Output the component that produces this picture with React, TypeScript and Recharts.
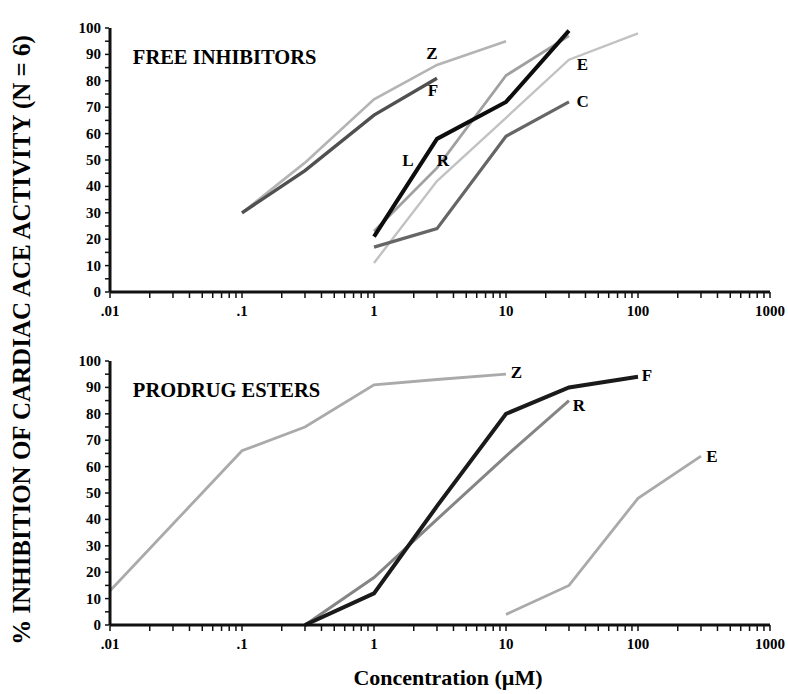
import React from 'react';
import { LineChart, Line, XAxis, YAxis, ReferenceDot, Label } from 'recharts';

// concentrations (µM) and % inhibition
const freeZConc = [0.1, 0.3, 1, 3, 10];
const freeZPct = [30, 49, 73, 86, 95];
const freeFConc = [0.1, 0.3, 1, 3];
const freeFPct = [30, 46, 67, 81];
const freeLConc = [1, 3, 10, 30];
const freeLPct = [21, 58, 72, 99];
const freeRConc = [1, 3, 10, 30];
const freeRPct = [23, 47, 82, 97];
const freeEConc = [1, 3, 10, 30, 100];
const freeEPct = [11, 42, 66, 88, 98];
const freeCConc = [1, 3, 10, 30];
const freeCPct = [17, 24, 59, 72];

const proZConc = [0.01, 0.1, 0.3, 1, 3, 10];
const proZPct = [13, 66, 75, 91, 93, 95];
const proFConc = [0.3, 1, 3, 10, 30, 100];
const proFPct = [0, 12, 45, 80, 90, 94];
const proRConc = [0.3, 1, 3, 10, 30];
const proRPct = [0, 18, 40, 64, 85];
const proEConc = [10, 30, 100, 300];
const proEPct = [4, 15, 48, 64];

const majorX = [0.01, 0.1, 1, 10, 100, 1000];
const majorXLabels = ['.01', '.1', '1', '10', '100', '1000'];
const minorX = [0.01, 0.1, 1, 10, 100].flatMap(d => [2, 3, 4, 5, 6, 7, 8, 9].map(m => +(d * m).toPrecision(3)));
const xTicks = [...majorX, ...minorX].sort((a, b) => a - b);
const yTicks = [0, 5, 10, 15, 20, 25, 30, 35, 40, 45, 50, 55, 60, 65, 70, 75, 80, 85, 90, 95, 100];

const SERIF = '"Liberation Serif", "Times New Roman", serif';

const pts = (xs: number[], ys: number[]) => xs.map((x, i) => ({ x, y: ys[i] }));

type Series = { name: string; data: { x: number; y: number }[]; stroke: string; width: number };
type Note = { text: string; x: number; y: number };

const freeSeries: Series[] = [
    { name: 'Z', data: pts(freeZConc, freeZPct), stroke: '#b4b4b4', width: 2.6 },
    { name: 'E', data: pts(freeEConc, freeEPct), stroke: '#c2c2c2', width: 2.4 },
    { name: 'R', data: pts(freeRConc, freeRPct), stroke: '#a0a0a0', width: 2.8 },
    { name: 'C', data: pts(freeCConc, freeCPct), stroke: '#666', width: 3.2 },
    { name: 'F', data: pts(freeFConc, freeFPct), stroke: '#505050', width: 3.4 },
    { name: 'L', data: pts(freeLConc, freeLPct), stroke: '#0d0d0d', width: 4 },
];

const proSeries: Series[] = [
    { name: 'Z', data: pts(proZConc, proZPct), stroke: '#aaa', width: 2.8 },
    { name: 'E', data: pts(proEConc, proEPct), stroke: '#aaa', width: 2.8 },
    { name: 'R', data: pts(proRConc, proRPct), stroke: '#858585', width: 3 },
    { name: 'F', data: pts(proFConc, proFPct), stroke: '#1a1a1a', width: 4 },
];

const freeNotes: Note[] = [
    { text: 'Z', x: 2.75, y: 90.5 },
    { text: 'F', x: 2.8, y: 76.5 },
    { text: 'E', x: 38, y: 86.4 },
    { text: 'C', x: 38, y: 72.3 },
    { text: 'L', x: 1.81, y: 50 },
    { text: 'R', x: 3.33, y: 50 },
];

const proNotes: Note[] = [
    { text: 'Z', x: 12, y: 95.8 },
    { text: 'F', x: 117, y: 94.7 },
    { text: 'R', x: 35.7, y: 83.3 },
    { text: 'E', x: 363, y: 63.9 },
];

const XTick = (props: any) => {
    const { x, y, payload } = props;
    const idx = majorX.indexOf(payload.value);
    return (
        <g>
            <line x1={x} x2={x} y1={y} y2={y + 6} stroke="#111" strokeWidth={1.5} />
            {idx >= 0 && (
                <text x={x} y={y + 24} textAnchor="middle" fontFamily={SERIF} fontWeight={700} fontSize={15} fill="#000">
                    {majorXLabels[idx]}
                </text>
            )}
        </g>
    );
};

const YTick = (props: any) => {
    const { x, y, payload } = props;
    const v = payload.value;
    return (
        <g>
            <line x1={x - 1} x2={x - 5} y1={y} y2={y} stroke="#111" strokeWidth={1.5} />
            {v % 10 === 0 && (
                <text x={x - 9} y={y + 5} textAnchor="end" fontFamily={SERIF} fontWeight={700} fontSize={15} fill="#000">
                    {v}
                </text>
            )}
        </g>
    );
};

const noteLabel = (text: string, position: any) => ({
    value: text,
    position,
    offset: 0,
    fill: '#000',
    fontSize: 17,
    fontWeight: 700,
    fontFamily: SERIF,
});

const frameLine = { stroke: '#1a1a1a', strokeWidth: 3 };

const Panel: React.FC<{ series: Series[]; notes: Note[]; title: string; titleY: number }> = ({ series, notes, title, titleY }) => (
    <LineChart width={788} height={330} margin={{ top: 28, right: 18, bottom: 0, left: 0 }}>
        <XAxis
            type="number"
            dataKey="x"
            scale="log"
            domain={[0.01, 1000]}
            ticks={xTicks}
            interval={0}
            tick={<XTick />}
            tickLine={false}
            tickSize={0}
            tickMargin={0}
            height={38}
            axisLine={{ stroke: '#111', strokeWidth: 3 }}
            allowDataOverflow
        />
        <XAxis
            xAxisId="top"
            orientation="top"
            type="number"
            scale="log"
            domain={[0.01, 1000]}
            allowDataOverflow
            tick={false}
            tickLine={false}
            height={0}
            axisLine={frameLine}
        />
        <YAxis
            type="number"
            domain={[0, 100]}
            ticks={yTicks}
            interval={0}
            tick={<YTick />}
            tickLine={false}
            tickSize={0}
            tickMargin={0}
            width={110}
            axisLine={{ stroke: '#111', strokeWidth: 3 }}
        />
        <YAxis
            yAxisId="right"
            orientation="right"
            type="number"
            domain={[0, 100]}
            tick={false}
            tickLine={false}
            width={0}
            axisLine={frameLine}
        />
        {series.map(s => (
            <Line
                key={s.name}
                data={s.data}
                dataKey="y"
                type="linear"
                stroke={s.stroke}
                strokeWidth={s.width}
                dot={false}
                isAnimationActive={false}
            />
        ))}
        <ReferenceDot x={0.0149} y={titleY} r={0} fill="none" stroke="none">
            <Label {...noteLabel(title, 'right')} fontSize={20.5} />
        </ReferenceDot>
        {notes.map(n => (
            <ReferenceDot key={n.text} x={n.x} y={n.y} r={0} fill="none" stroke="none">
                <Label {...noteLabel(n.text, 'center')} />
            </ReferenceDot>
        ))}
    </LineChart>
);

export default function App() {
    return (
        <div style={{ position: 'absolute', left: 0, top: 0, width: 788, height: 694, background: '#fff', fontFamily: SERIF }}>
            <div style={{ position: 'absolute', left: 0, top: 0 }}>
                <Panel series={freeSeries} notes={freeNotes} title="FREE INHIBITORS" titleY={89} />
            </div>
            <div style={{ position: 'absolute', left: 0, top: 333 }}>
                <Panel series={proSeries} notes={proNotes} title="PRODRUG ESTERS" titleY={89} />
            </div>
            <div
                style={{
                    position: 'absolute',
                    left: 22,
                    top: 340,
                    transform: 'translate(-50%, -50%) rotate(-90deg)',
                    whiteSpace: 'nowrap',
                    fontSize: 25,
                    fontWeight: 700,
                    color: '#000',
                }}
            >
                % INHIBITION OF CARDIAC ACE ACTIVITY (N = 6)
            </div>
            <div
                style={{
                    position: 'absolute',
                    left: 448,
                    top: 678,
                    transform: 'translate(-50%, -50%)',
                    whiteSpace: 'nowrap',
                    fontSize: 22,
                    fontWeight: 700,
                    color: '#000',
                }}
            >
                Concentration (µM)
            </div>
        </div>
    );
}
